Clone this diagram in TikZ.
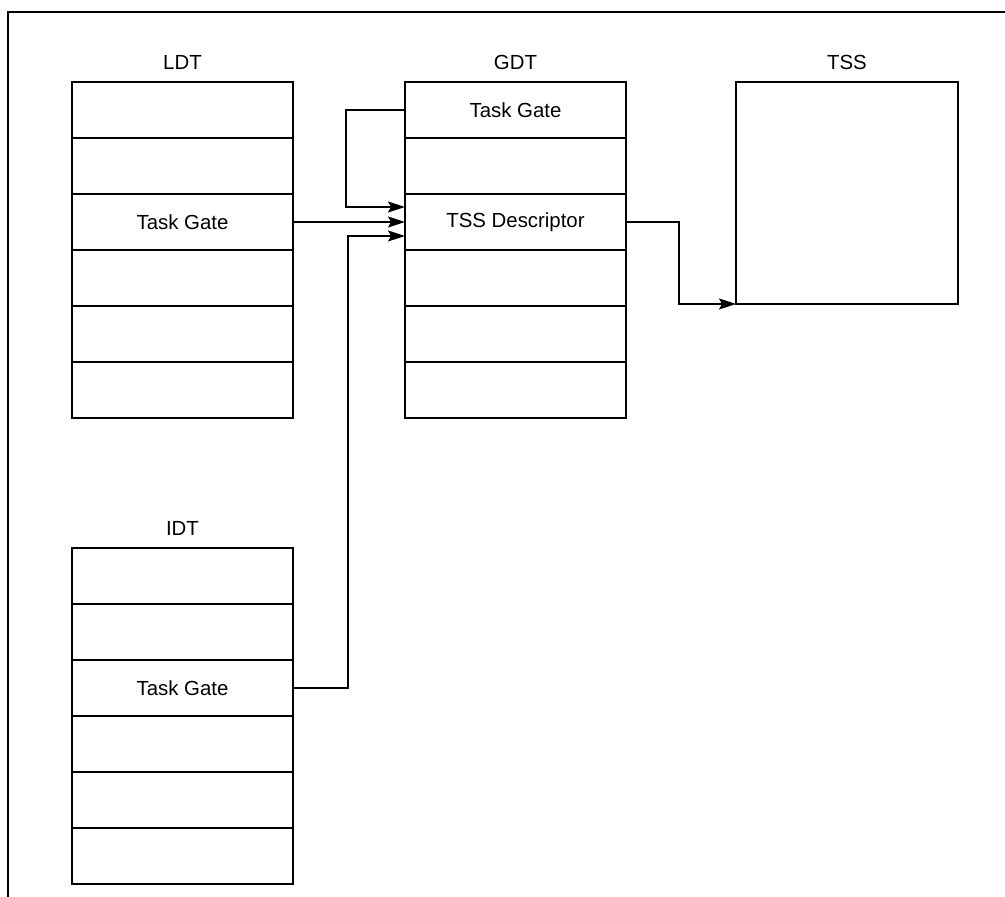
\documentclass[tikz,border=0pt]{standalone}
\usepackage{fontspec}
\setmainfont{Liberation Sans}
\usetikzlibrary{arrows.meta,positioning}
\tikzset{
  descrow/.style={
    draw=black,
    fill=white,
    line width=2pt,
    minimum width=221pt,
    minimum height=56pt,
    inner sep=0pt,
    outer sep=0pt,
    align=center,
    font=\fontsize{20.4}{24}\selectfont
  },
  tsspage/.style={
    draw=black,
    line width=2pt,
    minimum width=222pt,
    minimum height=222pt,
    outer sep=0pt
  },
  tbltitle/.style={inner sep=0pt,font=\fontsize{20.4}{24}\selectfont},
  gateflow/.style={-{Stealth[length=17pt,width=11pt,inset=3pt]},draw=black,line width=1.3pt},
  framepen/.style={draw=black,line width=2pt}
}

\begin{document}
\begin{tikzpicture}[x=1pt,y=1pt]
  \useasboundingbox (0,0) rectangle (1005,897);
  \draw[framepen] (8,0) -- (8,885) -- (1005,885);
  % LDT
  \node[descrow] (ldt1) at (182.5,787) {};
  \node[descrow,below=0pt of ldt1] (ldt2) {};
  \node[descrow,below=0pt of ldt2] (ldt3) {Task Gate};
  \node[descrow,below=0pt of ldt3] (ldt4) {};
  \node[descrow,below=0pt of ldt4] (ldt5) {};
  \node[descrow,below=0pt of ldt5] (ldt6) {};
  \node[tbltitle,above=12pt of ldt1] (ldtname) {LDT};
  % GDT
  \node[descrow,right=112pt of ldt1] (gdt1) {Task Gate};
  \node[descrow,below=0pt of gdt1] (gdt2) {};
  \node[descrow,below=0pt of gdt2] (gdt3) {TSS Descriptor};
  \node[descrow,below=0pt of gdt3] (gdt4) {};
  \node[descrow,below=0pt of gdt4] (gdt5) {};
  \node[descrow,below=0pt of gdt5] (gdt6) {};
  \node[tbltitle,above=12pt of gdt1] (gdtname) {GDT};
  % TSS
  \node[tsspage,anchor=north west] (tss) at ([xshift=110pt]gdt1.north east) {};
  \node[tbltitle,above=12pt of tss] (tssname) {TSS};
  % IDT
  \node[descrow,below=130pt of ldt6] (idt1) {};
  \node[descrow,below=0pt of idt1] (idt2) {};
  \node[descrow,below=0pt of idt2] (idt3) {Task Gate};
  \node[descrow,below=0pt of idt3] (idt4) {};
  \node[descrow,below=0pt of idt4] (idt5) {};
  \node[descrow,below=0pt of idt5] (idt6) {};
  \node[tbltitle,above=12pt of idt1] (idtname) {IDT};
  % gates to the TSS descriptor
  \draw[gateflow] (gdt1.west) -- ++(-59,0) |- ([yshift=15pt]gdt3.west);
  \draw[gateflow] (ldt3.east) -- (gdt3.west);
  \draw[gateflow] (idt3.east) -- ++(55,0) |- ([yshift=-14pt]gdt3.west);
  \draw[gateflow] (gdt3.east) -- ++(53,0) |- (tss.south west);
\end{tikzpicture}
\end{document}
